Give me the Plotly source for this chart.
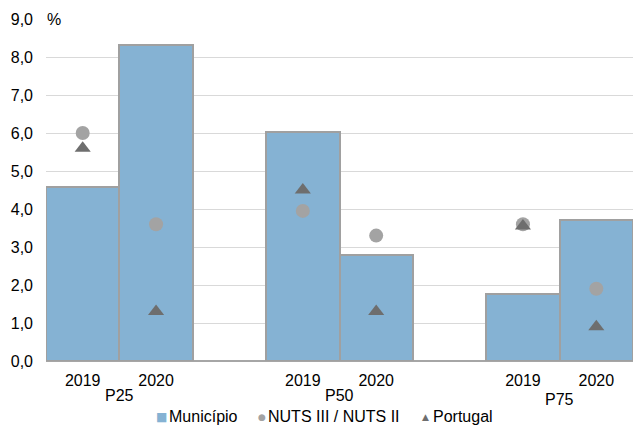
import plotly.graph_objects as go

groups = ["P25", "P50", "P75"]
years = ["2019", "2020"]
series_names = ["Município", "NUTS III / NUTS II", "Portugal"]
municipio = [4.57, 8.32, 6.03, 2.79, 1.76, 3.71]
nuts = [6.0, 3.6, 3.95, 3.3, 3.6, 1.9]
portugal = [5.6, 1.3, 4.5, 1.3, 3.55, 0.9]

# slot positions: two years per group, one empty slot between groups
xpos = [g * 3 + y for g in range(len(groups)) for y in range(len(years))]
xlabels = [years[y] for g in range(len(groups)) for y in range(len(years))]

FONT = "Liberation Sans, Arial, sans-serif"
FS = 16
BAR_COLOR = "#85B2D3"
CIRCLE_COLOR = "#A3A3A3"
TRI_COLOR = "#6E6E6E"

fig = go.Figure()
fig.add_trace(go.Bar(
    x=xpos, y=municipio, name=series_names[0], width=1,
    marker=dict(color=BAR_COLOR, line=dict(color="#A0A0A0", width=2)),
))
fig.add_trace(go.Scatter(
    x=xpos, y=nuts, name=series_names[1], mode="markers",
    marker=dict(symbol="circle", size=14, color=CIRCLE_COLOR),
))
fig.add_trace(go.Scatter(
    x=xpos, y=portugal, name=series_names[2], mode="markers",
    marker=dict(symbol="triangle-up", size=14, color=TRI_COLOR),
))

group_y = [-0.10, -0.10, -0.112]
for g, name in enumerate(groups):
    fig.add_annotation(x=g * 3 + 0.5, y=group_y[g], xref="x", yref="paper",
                       text=name, showarrow=False, xanchor="center", yanchor="middle",
                       font=dict(size=FS, color="#000000", family=FONT))

fig.add_annotation(x=-0.002, y=9.0, xref="paper", yref="y", text="%", showarrow=False,
                   xanchor="left", yanchor="middle",
                   font=dict(size=FS, color="#000000", family=FONT))

# custom legend (compact symbol-text spacing like the original)
LEG_Y = -0.1637
legend_items = [
    # name, glyph, colour, glyph size, glyph x, text x (paper)
    (series_names[0], "■", BAR_COLOR, 12, 0.1968, 0.2061),
    (series_names[1], "●", CIRCLE_COLOR, 9, 0.3680, 0.3748),
    (series_names[2], "▲", TRI_COLOR, 9, 0.6457, 0.6559),
]
for name, sym, col, ssize, sx, tx in legend_items:
    fig.add_annotation(
        x=sx, y=LEG_Y, xref="paper", yref="paper", showarrow=False,
        xanchor="center", yanchor="middle", text=sym,
        font=dict(size=ssize, color=col, family="DejaVu Sans"))
    fig.add_annotation(
        x=tx, y=LEG_Y, xref="paper", yref="paper", showarrow=False,
        xanchor="left", yanchor="middle", text=name,
        font=dict(size=FS, color="#000000", family=FONT))

fig.update_layout(
    width=633, height=426,
    margin=dict(l=46, r=0, t=19, b=65),
    paper_bgcolor="white", plot_bgcolor="white",
    separators=", ",
    bargap=0,
    font=dict(family=FONT, size=FS, color="#000000"),
    showlegend=False,
    xaxis=dict(range=[-0.5, 7.5], tickmode="array", tickvals=xpos, ticktext=xlabels,
               showgrid=False, zeroline=False, showline=False, ticks="",
               ticklabelstandoff=8, tickfont=dict(size=FS, color="#000000")),
    yaxis=dict(range=[0, 9], dtick=1, tickformat=".1f", showgrid=True,
               gridcolor="#D9D9D9", gridwidth=1, zeroline=True, zerolinecolor="#A6A6A6",
               zerolinewidth=2, showline=False, ticks="", ticklabelstandoff=12,
               tickfont=dict(size=FS, color="#000000")),
)

fig.write_html("out.html", config={"displayModeBar": False},
               post_script="document.body.style.margin='0';document.body.style.overflow='hidden';")
